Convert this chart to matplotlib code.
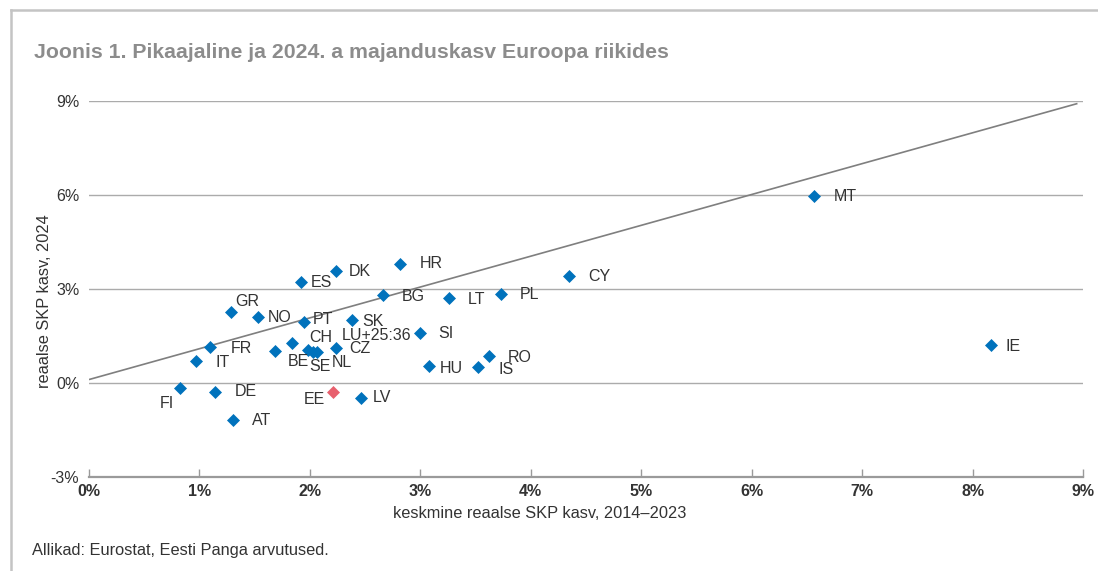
import matplotlib
matplotlib.use("Agg")
import matplotlib.pyplot as plt
from matplotlib.lines import Line2D
from matplotlib.ticker import FuncFormatter

plt.rcParams['font.family'] = ['Liberation Sans', 'DejaVu Sans']

# ---- data ----
codes = ['MT', 'IE', 'CY', 'HR', 'DK', 'ES', 'BG', 'LT', 'PL', 'GR', 'NO', 'PT', 'SK', 'SI', 'LU',
         'CH', 'BE', 'SE', 'NL', 'CZ', 'FR', 'IT', 'HU', 'IS', 'RO', 'FI', 'DE', 'EE', 'LV', 'AT']
label_texts = {'LU': 'LU+25:36'}
avg_2014_2023 = [6.56, 8.17, 4.35, 2.82, 2.24, 1.92, 2.66, 3.26, 3.73, 1.29, 1.53, 1.95, 2.38, 3.00, 1.98,
                 1.84, 1.68, 2.03, 2.06, 2.24, 1.10, 0.97, 3.08, 3.52, 3.62, 0.82, 1.14, 2.21, 2.46, 1.30]
growth_2024 = [5.97, 1.21, 3.42, 3.80, 3.56, 3.22, 2.82, 2.71, 2.85, 2.27, 2.10, 1.94, 2.01, 1.60, 1.05,
               1.29, 1.02, 1.00, 0.98, 1.13, 1.16, 0.71, 0.54, 0.52, 0.87, -0.15, -0.28, -0.30, -0.47, -1.19]
highlight = 'EE'
ref_line_x = [0.0, 8.95]
ref_line_y = [0.11, 8.92]
x_ticks = [0, 1, 2, 3, 4, 5, 6, 7, 8, 9]
y_ticks = [-3, 0, 3, 6, 9]

title = 'Joonis 1. Pikaajaline ja 2024. a majanduskasv Euroopa riikides'
x_title = 'keskmine reaalse SKP kasv, 2014–2023'
y_title = 'reaalse SKP kasv, 2024'
source = 'Allikad: Eurostat, Eesti Panga arvutused.'

# label placement (pixels: dx right, dy down, alignment)
label_offsets = {
    'MT': (20, 1, 'left'), 'IE': (14, 1, 'left'), 'CY': (19, 1, 'left'), 'HR': (19, 0, 'left'),
    'DK': (12, 0, 'left'), 'ES': (10, 0, 'left'), 'BG': (19, 2, 'left'), 'LT': (19, 1, 'left'),
    'PL': (19, 1, 'left'), 'GR': (4, -10, 'left'), 'NO': (10, 0, 'left'), 'PT': (8, -3, 'left'),
    'SK': (10, 1, 'left'), 'SI': (18, 1, 'left'), 'LU': (34, -15, 'left'), 'CH': (17, -5, 'left'),
    'BE': (13, 10, 'left'), 'SE': (-4, 15, 'left'), 'NL': (15, 10, 'left'), 'CZ': (13, 1, 'left'),
    'FR': (20, 2, 'left'), 'IT': (19, 2, 'left'), 'HU': (11, 2, 'left'), 'IS': (21, 3, 'left'),
    'RO': (19, 2, 'left'), 'FI': (-20, 16, 'left'), 'DE': (20, 0, 'left'), 'EE': (-8, 7, 'right'),
    'LV': (12, 0, 'left'), 'AT': (19, 0, 'left'),
}

BLUE = '#0072BC'
PINK = '#E8606E'
GRID = '#ababab'
TXT = '#333333'

W, H = 1098, 571
fig = plt.figure(figsize=(W / 100, H / 100), dpi=100)
ax = fig.add_axes([89 / W, 1 - 477 / H, (1083 - 89) / W, (477 - 101) / H])

ax.set_xlim(0, 9)
ax.set_ylim(-3, 9)

# gridlines
for yv in y_ticks:
    if yv > -3:
        ax.axhline(yv, color=GRID, lw=1.0, zorder=1)

# reference line
ax.plot(ref_line_x, ref_line_y, color='#7f7f7f', lw=1.2, zorder=2, solid_capstyle='butt')

# points
for c, xv, yv in zip(codes, avg_2014_2023, growth_2024):
    col = PINK if c == highlight else BLUE
    ax.plot([xv], [yv], marker='D', ms=6.6, mfc=col, mec=col, mew=0.5, ls='none', zorder=3)
    dx, dy, ha = label_offsets[c]
    ax.annotate(label_texts.get(c, c), (xv, yv), xytext=(dx, -dy), textcoords='offset pixels',
                ha=ha, va='center', fontsize=11.5, color=TXT, zorder=4)

# axes styling
for s in ['top', 'right', 'left']:
    ax.spines[s].set_visible(False)
ax.spines['bottom'].set_color('#9a9a9a')
ax.spines['bottom'].set_linewidth(1.6)
ax.set_xticks(x_ticks)
ax.set_yticks(y_ticks)
ax.xaxis.set_major_formatter(FuncFormatter(lambda v, p: f'{v:.0f}%'))
ax.yaxis.set_major_formatter(FuncFormatter(lambda v, p: f'{v:.0f}%'))
ax.tick_params(axis='x', direction='in', length=6, width=1.0, color='#9a9a9a', pad=5,
               labelsize=11.5, labelcolor=TXT)
ax.tick_params(axis='y', length=0, pad=7, labelsize=11.5, labelcolor=TXT)
for lab in ax.get_xticklabels():
    lab.set_fontweight('bold')
ax.patch.set_alpha(0)

# texts
fig.text(34 / W, 1 - 52 / H, title, fontsize=15.3, fontweight='bold', color='#8c8c8c',
         ha='left', va='center')
fig.text(540 / W, 1 - 514 / H, x_title, fontsize=11.8, color=TXT, ha='center', va='center')
fig.text(45 / W, 1 - 301 / H, y_title, fontsize=11.8, color=TXT, ha='center', va='center',
         rotation=90)
fig.text(32 / W, 1 - 551 / H, source, fontsize=11.8, color=TXT, ha='left', va='center')

# frame
fig.add_artist(Line2D([11 / W, 1.0], [1 - 10 / H, 1 - 10 / H], color='#c4c4c4', lw=1.8,
                      transform=fig.transFigure))
fig.add_artist(Line2D([11 / W, 11 / W], [1 - 10 / H, 0.0], color='#c4c4c4', lw=1.8,
                      transform=fig.transFigure))

fig.savefig('out.png', dpi=100)
